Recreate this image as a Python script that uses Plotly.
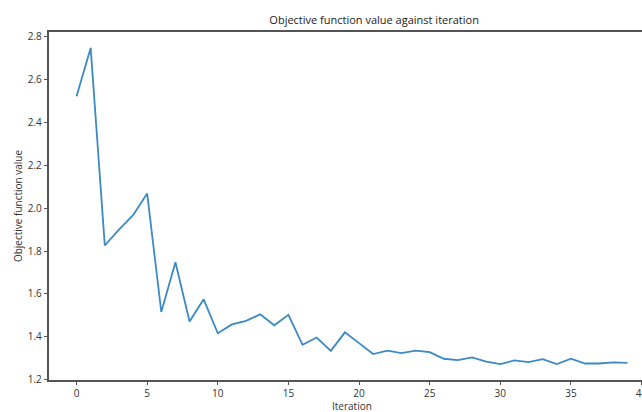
import plotly.graph_objects as go

iterations = list(range(40))
objective = [2.521, 2.747, 1.826, 1.900, 1.967, 2.068, 1.516, 1.748, 1.472, 1.575,
             1.417, 1.458, 1.475, 1.505, 1.454, 1.503, 1.363, 1.397, 1.335, 1.421,
             1.371, 1.320, 1.336, 1.324, 1.336, 1.329, 1.298, 1.292, 1.304, 1.285,
             1.273, 1.290, 1.282, 1.296, 1.273, 1.298, 1.276, 1.276, 1.281, 1.279]
x_ticks = [0, 5, 10, 15, 20, 25, 30, 35, 40]
y_ticks = [1.2, 1.4, 1.6, 1.8, 2.0, 2.2, 2.4, 2.6, 2.8]
y_tick_text = ["1.2", "1.4", "1.6", "1.8", "2.0", "2.2", "2.4", "2.6", "2.8"]

FONT = "Open Sans"
AX = "#555555"
TXT = "#333333"

fig = go.Figure()
fig.add_trace(go.Scatter(x=iterations, y=objective, mode="lines",
                         line=dict(color="#3b8ac4", width=1.8), showlegend=False))

fig.update_layout(
    width=642, height=412,
    margin=dict(l=49, r=0, t=32, b=32),
    paper_bgcolor="white", plot_bgcolor="white",
    font=dict(family=FONT, size=10, color=TXT),
    title=dict(text="Objective function value against iteration",
               x=352 / 642, xanchor="center", xref="paper",
               y=1 - 20 / 412, yanchor="middle", yref="container",
               font=dict(family=FONT, size=11, color="#222222")),
    annotations=[dict(text="Iteration", xref="paper", yref="paper",
                      x=(352 - 49) / 593, y=-25.5 / 348, xanchor="center", yanchor="middle",
                      showarrow=False, font=dict(family=FONT, size=10, color=TXT))],
)
fig.update_xaxes(
    range=[-1.95, 40.03], tickvals=x_ticks, showgrid=False, zeroline=False,
    showline=True, linecolor=AX, linewidth=1.5, mirror=True,
    ticks="outside", ticklen=3.5, tickcolor=AX, tickwidth=1,
    tickfont=dict(family=FONT, size=10, color=TXT), automargin=False,
    ticklabeloverflow="allow",
)
fig.update_yaxes(
    range=[1.199, 2.821], tickvals=y_ticks, ticktext=y_tick_text,
    showgrid=False, zeroline=False,
    showline=True, linecolor=AX, linewidth=1.5, mirror=False,
    ticks="outside", ticklen=3.5, tickcolor=AX, tickwidth=1,
    tickfont=dict(family=FONT, size=10, color=TXT), automargin=False,
    title=dict(text="Objective function value", standoff=3,
               font=dict(family=FONT, size=10, color=TXT)),
)

fig.write_html("out.html")
